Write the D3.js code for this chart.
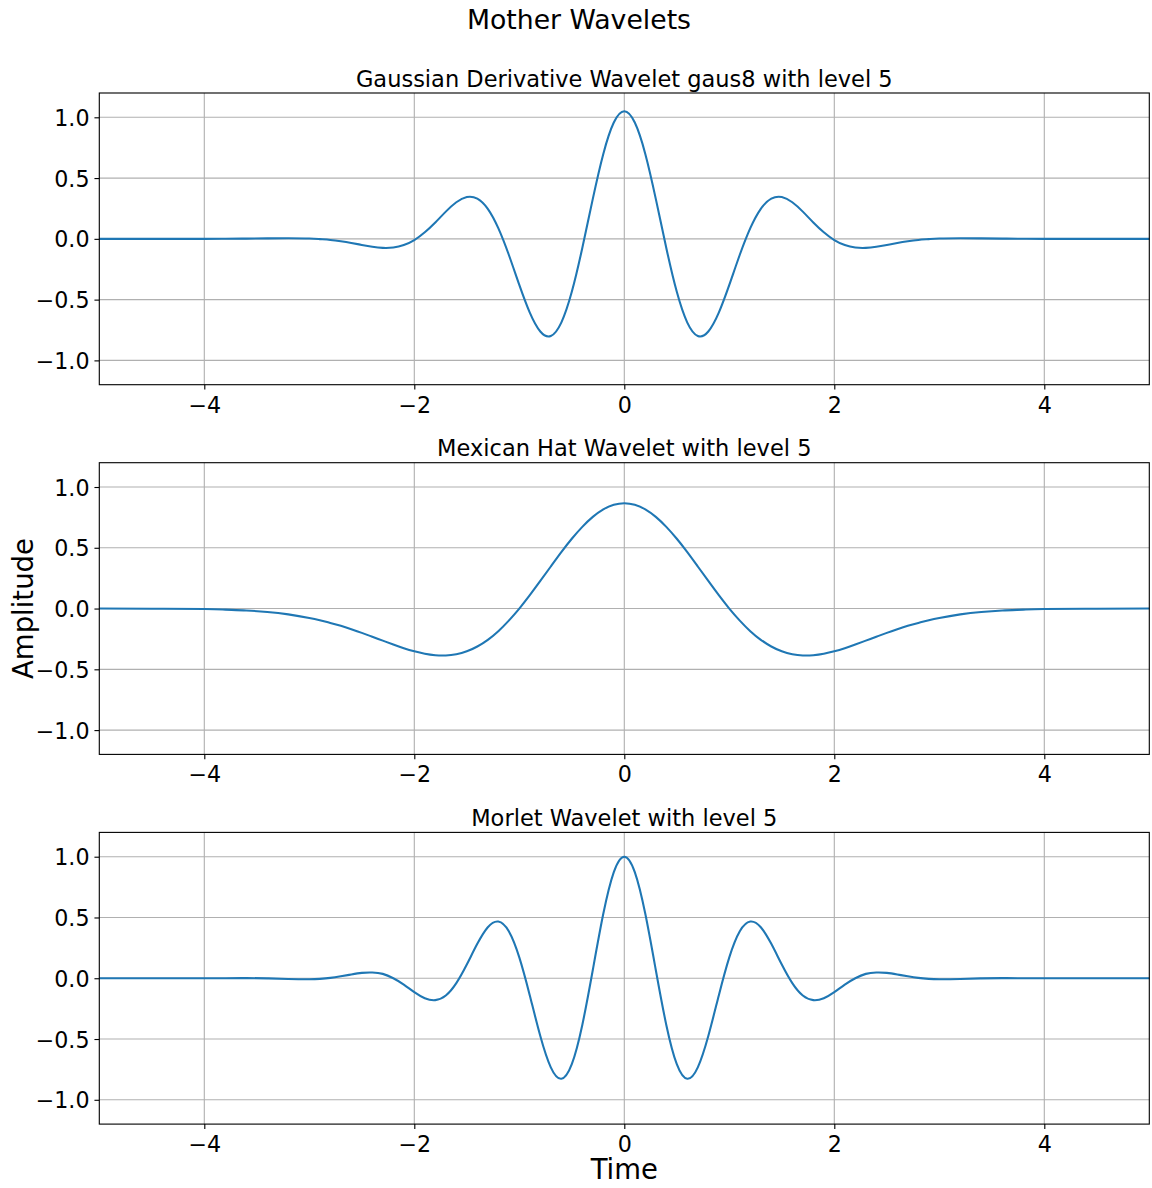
<!DOCTYPE html>
<html>
<head>
<meta charset="utf-8">
<script src="https://cdn.jsdelivr.net/npm/d3@7"></script>
<style>
  html, body { margin: 0; padding: 0; background: #fff; }
  svg { display: block; font-family: "DejaVu Sans", sans-serif; }
</style>
</head>
<body>
<svg id="chart" width="1152" height="1188"></svg>
<script>
const time = [-5, -4.5, -4, -3.8, -3.6, -3.4, -3.2, -3.0, -2.9, -2.8, -2.7, -2.6, -2.5, -2.4, -2.3, -2.2, -2.1, -2.0, -1.9, -1.8, -1.7, -1.6, -1.5, -1.4, -1.3, -1.2, -1.1, -1.0, -0.9, -0.8, -0.7, -0.6, -0.5, -0.4, -0.3, -0.2, -0.1, 0, 0.1, 0.2, 0.3, 0.4, 0.5, 0.6, 0.7, 0.8, 0.9, 1.0, 1.1, 1.2, 1.3, 1.4, 1.5, 1.6, 1.7, 1.8, 1.9, 2.0, 2.1, 2.2, 2.3, 2.4, 2.5, 2.6, 2.7, 2.8, 2.9, 3.0, 3.2, 3.4, 3.6, 3.8, 4.0, 4.5, 5];

const gaus8Values = [0.000, 0.000, 0.000, 0.001, 0.002, 0.004, 0.005, 0.003, -0.002, -0.009, -0.020, -0.034, -0.050, -0.065, -0.074, -0.071, -0.051, -0.010, 0.054, 0.135, 0.224, 0.301, 0.344, 0.331, 0.247, 0.088, -0.131, -0.379, -0.607, -0.762, -0.799, -0.689, -0.436, -0.075, 0.329, 0.699, 0.957, 1.050, 0.957, 0.699, 0.329, -0.075, -0.436, -0.689, -0.799, -0.762, -0.607, -0.379, -0.131, 0.088, 0.247, 0.331, 0.344, 0.301, 0.224, 0.135, 0.054, -0.010, -0.051, -0.071, -0.074, -0.065, -0.050, -0.034, -0.020, -0.009, -0.002, 0.003, 0.005, 0.004, 0.002, 0.001, 0.000, 0.000, 0.000];

const mexhValues = [0.000, -0.001, -0.004, -0.009, -0.016, -0.028, -0.048, -0.077, -0.096, -0.118, -0.142, -0.170, -0.200, -0.232, -0.264, -0.296, -0.326, -0.352, -0.372, -0.384, -0.386, -0.376, -0.352, -0.312, -0.257, -0.186, -0.099, 0.000, 0.110, 0.227, 0.346, 0.464, 0.574, 0.672, 0.754, 0.816, 0.854, 0.867, 0.854, 0.816, 0.754, 0.672, 0.574, 0.464, 0.346, 0.227, 0.110, 0.000, -0.099, -0.186, -0.257, -0.312, -0.352, -0.376, -0.386, -0.384, -0.372, -0.352, -0.326, -0.296, -0.264, -0.232, -0.200, -0.170, -0.142, -0.118, -0.096, -0.077, -0.048, -0.028, -0.016, -0.009, -0.004, -0.001, 0.000];

const morlValues = [0.000, 0.000, 0.000, 0.000, 0.001, -0.001, -0.006, -0.008, -0.005, 0.003, 0.016, 0.031, 0.044, 0.047, 0.036, 0.000, -0.052, -0.114, -0.164, -0.180, -0.142, -0.040, 0.113, 0.283, 0.420, 0.467, 0.387, 0.172, -0.141, -0.475, -0.733, -0.827, -0.707, -0.384, 0.068, 0.530, 0.873, 1.000, 0.873, 0.530, 0.068, -0.384, -0.707, -0.827, -0.733, -0.475, -0.141, 0.172, 0.387, 0.467, 0.420, 0.283, 0.113, -0.040, -0.142, -0.180, -0.164, -0.114, -0.052, 0.000, 0.036, 0.047, 0.044, 0.031, 0.016, 0.003, -0.005, -0.008, -0.006, -0.001, 0.001, 0.000, 0.000, 0.000, 0.000];

const panelTitles = ["Gaussian Derivative Wavelet gaus8 with level 5", "Mexican Hat Wavelet with level 5", "Morlet Wavelet with level 5"];
const seriesList = [gaus8Values, mexhValues, morlValues];
const xTicks = [-4, -2, 0, 2, 4];
const yTicks = [-1.0, -0.5, 0.0, 0.5, 1.0];
const xDomain = [-5, 5];
const yDomain = [-1.2, 1.2];

const svg = d3.select("#chart");
const left = 99.3, right = 1149.3, panelH = 291.7;
const tops = [93, 462.7, 832.4];
const lineColor = "#1f77b4";

const fmtY = v => v.toFixed(1).replace("-", "\u2212");
const fmtX = v => String(v).replace("-", "\u2212");

svg.append("text")
  .attr("x", 579).attr("y", 29)
  .attr("text-anchor", "middle")
  .attr("font-size", "26.7px")
  .attr("fill", "#000")
  .text("Mother Wavelets");

seriesList.forEach((vals, i) => {
  const top = tops[i], bottom = top + panelH;
  const x = d3.scaleLinear().domain(xDomain).range([left, right]);
  const y = d3.scaleLinear().domain(yDomain).range([bottom, top]);
  const g = svg.append("g");

  g.selectAll(".gx").data(xTicks).enter().append("line")
    .attr("x1", d => x(d)).attr("x2", d => x(d))
    .attr("y1", top).attr("y2", bottom)
    .attr("stroke", "#b0b0b0").attr("stroke-width", 1.11);
  g.selectAll(".gy").data(yTicks).enter().append("line")
    .attr("x1", left).attr("x2", right)
    .attr("y1", d => y(d)).attr("y2", d => y(d))
    .attr("stroke", "#b0b0b0").attr("stroke-width", 1.11);

  const clipId = "clip" + i;
  svg.append("clipPath").attr("id", clipId).append("rect")
    .attr("x", left).attr("y", top).attr("width", right - left).attr("height", panelH);

  const line = d3.line()
    .x((d, k) => x(time[k]))
    .y(d => y(d))
    .curve(d3.curveNatural);

  g.append("path")
    .datum(vals)
    .attr("clip-path", `url(#${clipId})`)
    .attr("d", line)
    .attr("fill", "none")
    .attr("stroke", lineColor)
    .attr("stroke-width", 2.08)
    .attr("stroke-linejoin", "round")
    .attr("stroke-linecap", "square");

  const xAxis = d3.axisBottom(x).tickValues(xTicks).tickSize(4.86).tickPadding(4.9).tickFormat(fmtX);
  const yAxis = d3.axisLeft(y).tickValues(yTicks).tickSize(4.86).tickPadding(4.9).tickFormat(fmtY);

  const gx = svg.append("g").attr("transform", `translate(0,${bottom})`).call(xAxis);
  const gy = svg.append("g").attr("transform", `translate(${left},0)`).call(yAxis);
  [gx, gy].forEach(a => {
    a.select(".domain").remove();
    a.selectAll(".tick line").attr("stroke", "#000").attr("stroke-width", 1.11);
    a.selectAll(".tick text").attr("font-size", "22.2px").attr("fill", "#000")
      .attr("font-family", "DejaVu Sans, sans-serif");
  });
  gx.selectAll(".tick text").attr("dy", null).attr("y", 28);
  gy.selectAll(".tick text").attr("dy", "0.365em");

  svg.append("rect")
    .attr("x", left).attr("y", top).attr("width", right - left).attr("height", panelH)
    .attr("fill", "none").attr("stroke", "#000").attr("stroke-width", 1.11);

  svg.append("text")
    .attr("x", (left + right) / 2).attr("y", top - 6.3)
    .attr("text-anchor", "middle")
    .attr("font-size", "22.5px")
    .attr("fill", "#000")
    .text(panelTitles[i]);
});

svg.append("text")
  .attr("transform", "translate(33.3,608.5) rotate(-90)")
  .attr("text-anchor", "middle")
  .attr("font-size", "27.5px")
  .attr("fill", "#000")
  .text("Amplitude");

svg.append("text")
  .attr("x", 624.3).attr("y", 1179.3)
  .attr("text-anchor", "middle")
  .attr("font-size", "27.5px")
  .attr("fill", "#000")
  .text("Time");
</script>
</body>
</html>
